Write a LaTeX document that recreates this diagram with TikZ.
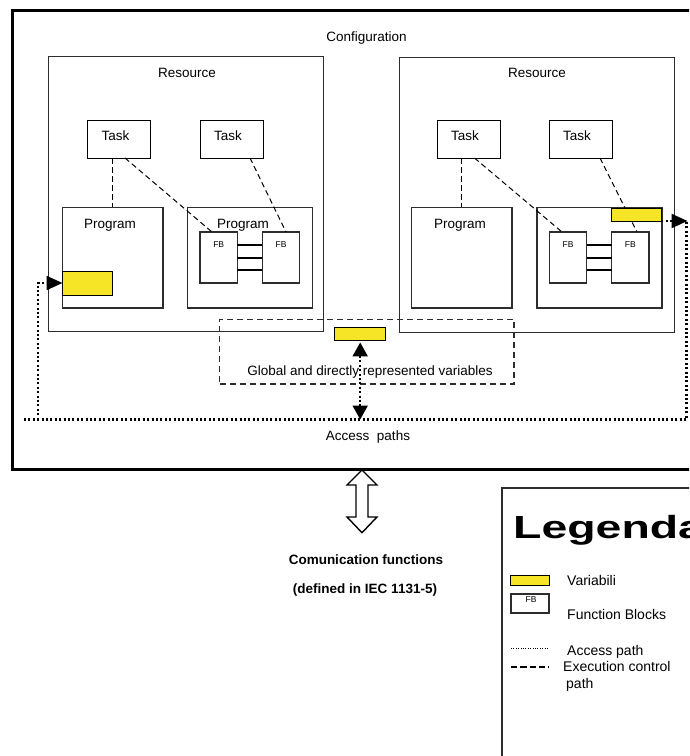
\documentclass[tikz,border=0pt]{standalone}
\usepackage{fontspec}
\setmainfont{Liberation Sans}
\usepackage{graphicx}
\usetikzlibrary{arrows.meta}
\definecolor{varyellow}{RGB}{246,228,38}
\definecolor{boxgray}{RGB}{45,45,45}

\begin{document}
\begin{tikzpicture}[x=1pt,y=-1pt,
  frame/.style={draw=black, line width=3pt, inner sep=0pt, outer sep=0pt},
  legframe/.style={draw=boxgray, line width=1.4pt, inner sep=0pt, outer sep=0pt},
  resbox/.style={draw=boxgray, line width=1.3pt, inner sep=0pt, outer sep=0pt, minimum width=275pt, minimum height=275pt},
  taskbox/.style={draw=black, line width=1pt, inner sep=0pt, outer sep=0pt, minimum width=63pt, minimum height=38pt},
  progbox/.style={draw=boxgray, line width=1.4pt, inner sep=0pt, outer sep=0pt, minimum height=100.5pt},
  fbbox/.style={draw=boxgray, line width=1.3pt, inner sep=0pt, outer sep=0pt, minimum width=37.5pt, minimum height=51pt},
  varbox/.style={draw=black, line width=1pt, fill=varyellow, inner sep=0pt, outer sep=0pt},
  globalbox/.style={draw=boxgray, line width=1.1pt, dash pattern=on 6pt off 4pt, inner sep=0pt, outer sep=0pt},
  exec/.style={line width=1pt, dash pattern=on 5.5pt off 3.5pt},
  fblink/.style={line width=1.2pt},
  access/.style={line width=2.2pt, dash pattern=on 2pt off 2.4pt},
  tip/.style={-{Triangle[length=16pt,width=14pt]}},
  bothtips/.style={{Triangle[length=14pt,width=15pt]}-{Triangle[length=14pt,width=15pt]}},
  lbl/.style={inner sep=0pt, font=\fontsize{13.5}{16}\selectfont, text height=9.7pt, text depth=0pt},
  boldlbl/.style={inner sep=0pt, font=\fontsize{13.5}{16}\selectfont\bfseries, text height=9.7pt, text depth=0pt},
  fblbl/.style={inner sep=0pt, font=\fontsize{8.5}{10}\selectfont, text height=6pt, text depth=0pt},
  leglbl/.style={inner sep=0pt, anchor=west, font=\fontsize{14}{16}\selectfont, text height=10pt, text depth=0pt},
  legdots/.style={line width=0.8pt, dash pattern=on 0.8pt off 1.6pt},
  legdash/.style={line width=1.6pt, dash pattern=on 6.3pt off 3pt},
  hollowarrow/.style={draw=black, line width=1.4pt, fill=white, line join=miter}
]
\useasboundingbox (0,0) rectangle (689,756);
\fill[white] (0,0) rectangle (689,756);
\clip (0,0) rectangle (689,756);

% configuration frame (runs off the right edge)
\node[frame, minimum width=690pt, minimum height=458.5pt] (config) at (357,239.75) {};
\node[lbl] (configt) at (366.5,36.7) {Configuration};

% resources
\node[resbox] (resL) at (186,194) {};
\node[resbox] (resR) at (537,195) {};
\node[lbl] (resLt) at (187,73) {Resource};
\node[lbl] (resRt) at (537,73) {Resource};

% tasks
\node[taskbox] (task1) at (119,139) {};
\node[taskbox] (task2) at (231.5,139) {};
\node[taskbox] (task3) at (468.5,139) {};
\node[taskbox] (task4) at (580.5,139) {};
\node[lbl] (task1t) at (115.5,136) {Task};
\node[lbl] (task2t) at (228,136) {Task};
\node[lbl] (task3t) at (465,136) {Task};
\node[lbl] (task4t) at (577,136) {Task};

% programs
\node[progbox, minimum width=100.5pt] (progL1) at (112.7,257.7) {};
\node[progbox, minimum width=125pt] (progL2) at (250,257.7) {};
\node[progbox, minimum width=100.5pt] (progR1) at (461.8,257.7) {};
\node[progbox, minimum width=125pt] (progR2) at (599.5,257.7) {};
\node[lbl] (progL1t) at (110,223.7) {Program};
\node[lbl] (progL2t) at (243,223.7) {Program};
\node[lbl] (progR1t) at (460,223.7) {Program};

% function blocks
\node[fbbox] (fbL1) at (218.7,257.5) {};
\node[fbbox] (fbL2) at (281,257.5) {};
\node[fbbox] (fbR1) at (568,257.5) {};
\node[fbbox] (fbR2) at (630.3,257.5) {};
\node[fblbl] (fbL1t) at (218.7,244) {FB};
\node[fblbl] (fbL2t) at (281,244) {FB};
\node[fblbl] (fbR1t) at (568,244) {FB};
\node[fblbl] (fbR2t) at (630.3,244) {FB};
\foreach \dy in {12.5,-0.5,-12.5}{
  \draw[fblink] ([yshift=\dy pt]fbL1.east) -- ([yshift=\dy pt]fbL2.west);
  \draw[fblink] ([yshift=\dy pt]fbR1.east) -- ([yshift=\dy pt]fbR2.west);
}

% execution control paths
\draw[exec] (progL1.north |- task1.south) -- (progL1.north);
\draw[exec] ([xshift=6pt]task1.south) -- ([xshift=-6.7pt]fbL1.north);
\draw[exec] ([xshift=18.5pt]task2.south) -- ([xshift=5pt]fbL2.north);
\draw[exec] (progR1.north |- task3.south) -- (progR1.north);
\draw[exec] ([xshift=6pt]task3.south) -- ([xshift=-6pt]fbR1.north);
\draw[exec] ([xshift=19.5pt]task4.south) -- ([xshift=6.7pt]fbR2.north);

% variables
\node[varbox, minimum width=50pt, minimum height=24pt] (varL) at (87.5,283) {};
\node[varbox, minimum width=49.5pt, minimum height=13pt] (varR) at (636.7,214.5) {};

% global and directly represented variables
\node[globalbox, minimum width=294.3pt, minimum height=64.5pt] (global) at (366.8,351.7) {};
\node[varbox, minimum width=50.5pt, minimum height=13.5pt] (varG) at (360.2,334.2) {};

% access paths
\coordinate (accL) at (24,419.5);
\coordinate (accR) at (686.5,419.5);
\coordinate (accLup) at (38,419.5);
\coordinate (cornR) at (687.5,221);
\draw[access] (accL) -- (accR) -- ([yshift=-1pt]cornR -| accR);
\draw[access, tip] (accLup) |- (varL.west);
\draw[access, tip] (varR.south east) -- (cornR);
\draw[access, bothtips] ([yshift=-1.5pt]varG.south) -- (varG.south |- accL);

\node[lbl] (globalt) at (370,370.3) {Global and directly represented variables};
\node[lbl] (acct) at (368,435.3) {Access\ \ paths};

% communication interface
\draw[hollowarrow, shift={(362,501.5)}]
  (0,-31.5) -- (15,-16.5) -- (6,-16.5) -- (6,15.5) -- (15,15.5) -- (0,31.2)
  -- (-15,15.5) -- (-6,15.5) -- (-6,-16.5) -- (-15,-16.5) -- cycle;
\node[boldlbl] (commt) at (366,559.5) {Comunication functions};
\node[boldlbl] (commt2) at (365,589) {(defined in IEC 1131-5)};

% legend
\node[legframe, minimum width=200pt, minimum height=290pt] (legend) at (602,633) {};
\node[anchor=base west, inner sep=0pt] (legendt) at (513,538)
  {\scalebox{1.45}[1]{\fontsize{32}{36}\selectfont\bfseries Legenda}};
\node[varbox, minimum width=38.5pt, minimum height=10pt] (legvar) at (530,580) {};
\node[leglbl] (legvart) at (567,580) {Variabili};
\node[fbbox, minimum width=38pt, minimum height=19pt] (legfb) at (530,603.5) {};
\node[fblbl] (legfbt) at (531,599) {FB};
\node[leglbl] (legfbtt) at (567,614) {Function Blocks};
\coordinate (legdotA) at (511,648);
\coordinate (legdotB) at (549,648);
\draw[legdots] (legdotA) -- (legdotB);
\node[leglbl] (legacct) at (567,650.5) {Access path};
\coordinate (legdashA) at (511,667);
\coordinate (legdashB) at (549,667);
\draw[legdash] (legdashA) -- (legdashB);
\node[leglbl] (legexect) at (563,666.3) {Execution control};
\node[leglbl] (legexect2) at (566,683.3) {path};
\end{tikzpicture}
\end{document}
